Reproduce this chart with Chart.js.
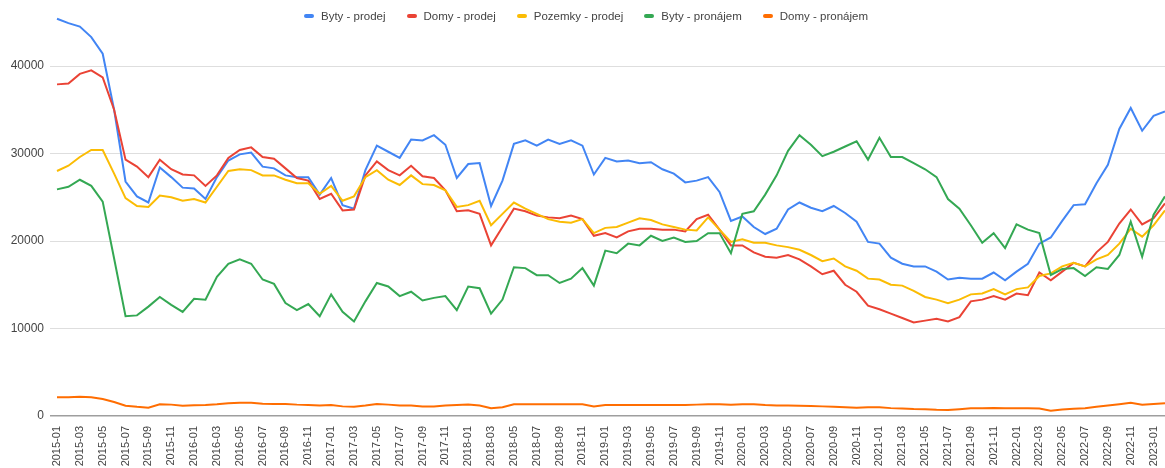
<!DOCTYPE html>
<html>
<head>
<meta charset="utf-8">
<script src="https://cdn.jsdelivr.net/npm/chart.js@4"></script>
<style>
html,body{margin:0;padding:0;background:#fff;overflow:hidden;}
#wrap{position:relative;width:1165px;height:468px;}
#legend{position:absolute;top:10px;left:304px;display:flex;font-family:"Liberation Sans",Arial,sans-serif;font-size:11.5px;color:#444;white-space:nowrap;}
#legend .item{display:flex;align-items:center;margin-right:21px;}
#legend .mk{width:10px;height:4px;border-radius:2px;margin-right:7px;}
</style>
</head>
<body>
<div id="wrap">
<canvas id="c" width="1165" height="468"></canvas>
<div id="legend"></div>
</div>
<script>
const months = ["2015-01","2015-02","2015-03","2015-04","2015-05","2015-06","2015-07","2015-08","2015-09","2015-10","2015-11","2015-12",
"2016-01","2016-02","2016-03","2016-04","2016-05","2016-06","2016-07","2016-08","2016-09","2016-10","2016-11","2016-12",
"2017-01","2017-02","2017-03","2017-04","2017-05","2017-06","2017-07","2017-08","2017-09","2017-10","2017-11","2017-12",
"2018-01","2018-02","2018-03","2018-04","2018-05","2018-06","2018-07","2018-08","2018-09","2018-10","2018-11","2018-12",
"2019-01","2019-02","2019-03","2019-04","2019-05","2019-06","2019-07","2019-08","2019-09","2019-10","2019-11","2019-12",
"2020-01","2020-02","2020-03","2020-04","2020-05","2020-06","2020-07","2020-08","2020-09","2020-10","2020-11","2020-12",
"2021-01","2021-02","2021-03","2021-04","2021-05","2021-06","2021-07","2021-08","2021-09","2021-10","2021-11","2021-12",
"2022-01","2022-02","2022-03","2022-04","2022-05","2022-06","2022-07","2022-08","2022-09","2022-10","2022-11","2022-12",
"2023-01","2023-02"];

const bytyProdej = [45400,44900,44500,43300,41400,35000,26800,25100,24400,28400,27300,26100,
26000,24800,27300,29200,29900,30100,28500,28300,27500,27300,27300,25300,
27200,24100,23700,28100,30900,30200,29500,31600,31500,32100,31000,27200,
28800,28900,24000,26900,31100,31500,30900,31600,31100,31500,30900,27600,
29500,29100,29200,28900,29000,28200,27700,26700,26900,27300,25600,22300,
22800,21600,20800,21400,23600,24400,23800,23400,24000,23200,22200,19900,
19700,18100,17400,17100,17100,16500,15600,15800,15700,15700,16400,15500,
16500,17400,19700,20400,22300,24100,24200,26600,28700,32800,35200,32600,
34300,34800];

const domyProdej = [37900,38000,39100,39500,38700,35000,29300,28500,27300,29300,28200,27600,
27500,26300,27500,29500,30400,30700,29600,29400,28300,27200,26900,24800,
25400,23500,23600,27500,29100,28100,27500,28600,27400,27200,25800,23400,
23500,23100,19500,21600,23700,23400,22900,22700,22600,22900,22500,20600,
20900,20400,21100,21400,21400,21300,21300,21100,22500,23000,21300,19500,
19500,18700,18200,18100,18400,17900,17100,16200,16600,15000,14200,12600,
12200,11700,11200,10700,10900,11100,10800,11300,13100,13300,13700,13300,
14000,13800,16400,15500,16500,17500,17100,18700,19900,22000,23600,21900,
22600,24300];

const pozemkyProdej = [28000,28600,29600,30400,30400,27700,24900,24000,23900,25200,25000,24600,
24800,24400,26200,28000,28200,28100,27500,27500,27000,26600,26600,25400,
26300,24600,25100,27300,28100,27000,26400,27500,26500,26400,25800,23900,
24100,24600,21800,23100,24400,23700,23100,22500,22200,22100,22500,20900,
21500,21600,22100,22600,22400,21900,21600,21300,21200,22700,21300,19900,
20200,19800,19800,19500,19300,19000,18400,17700,18000,17100,16600,15700,
15600,15000,14900,14300,13600,13300,12900,13300,13900,14000,14500,13900,
14500,14700,16000,16300,17100,17500,17100,17900,18400,19700,21400,20500,
21800,23500];

const bytyPronajem = [25900,26200,27000,26300,24500,18000,11400,11500,12500,13600,12700,11900,
13400,13300,15900,17400,17900,17400,15600,15100,12900,12100,12800,11400,
13900,11900,10800,13100,15200,14800,13700,14200,13200,13500,13700,12100,
14800,14600,11700,13300,17000,16900,16100,16100,15200,15700,16900,14900,
18900,18600,19700,19500,20600,20000,20400,19900,20000,20900,20900,18600,
23100,23400,25300,27500,30300,32100,31000,29700,30200,30800,31400,29300,
31800,29600,29600,28900,28200,27300,24800,23700,21800,19800,20900,19200,
21900,21300,20900,16100,16800,16900,16000,17000,16800,18400,22200,18200,
23000,25100];

const domyPronajem = [2130,2150,2200,2150,1950,1600,1180,1050,950,1340,1300,1180,
1220,1260,1330,1450,1520,1520,1400,1370,1370,1300,1260,1200,
1260,1100,1070,1200,1380,1300,1200,1200,1100,1100,1200,1250,
1300,1200,900,1000,1330,1330,1330,1330,1350,1350,1350,1100,
1250,1270,1270,1250,1270,1270,1270,1270,1300,1350,1350,1300,
1350,1330,1250,1200,1200,1180,1150,1100,1070,1000,950,1000,
1000,900,870,800,770,720,700,780,880,880,900,880,
880,880,850,600,750,820,880,1050,1200,1350,1520,1280,
1380,1450];

const seriesNames = ["Byty - prodej","Domy - prodej","Pozemky - prodej","Byty - pronájem","Domy - pronájem"];
const seriesColors = ["#4285F4","#EA4335","#FBBC04","#34A853","#FF6D01"];
const yTicks = [0,10000,20000,30000,40000];

const seriesData = [bytyProdej, domyProdej, pozemkyProdej, bytyPronajem, domyPronajem];

const legend = document.getElementById('legend');
seriesNames.forEach((n,i)=>{
  const it = document.createElement('div'); it.className='item';
  const mk = document.createElement('span'); mk.className='mk'; mk.style.background=seriesColors[i];
  const tx = document.createElement('span'); tx.textContent=n;
  it.appendChild(mk); it.appendChild(tx); legend.appendChild(it);
});

new Chart(document.getElementById('c'), {
  type:'line',
  data:{
    labels: months,
    datasets: seriesData.map((d,i)=>({
      label: seriesNames[i], data: d, borderColor: seriesColors[i], backgroundColor: seriesColors[i],
      borderWidth: 2, pointRadius: 0, tension: 0, fill:false
    })).reverse()
  },
  options:{
    responsive:false, animation:false, devicePixelRatio:1,
    layout:{padding:{top:13.5,right:0,left:0,bottom:0}},
    plugins:{legend:{display:false}, tooltip:{enabled:false}},
    scales:{
      x:{
        offset:false,
        grid:{display:false},
        border:{display:false},
        ticks:{autoSkip:false, minRotation:90, maxRotation:90, padding:2,
          color:'#444', font:{family:'"Liberation Sans", Arial, sans-serif', size:11},
          callback:function(v,i){ return i%2===0 ? months[i] : ''; }},
        afterFit:function(s){ s.height = 52; s.paddingRight = 0; s.paddingLeft = 0; }
      },
      y:{
        min:0, max:46000,
        afterBuildTicks:function(s){ s.ticks = yTicks.map(v=>({value:v})); },
        grid:{color:function(c){ return c.tick && c.tick.value===0 ? '#9e9e9e' : '#dedede'; },
              lineWidth:function(c){ return c.tick && c.tick.value===0 ? 1.5 : 1; },
              tickLength:7},
        border:{display:false},
        ticks:{padding:6, color:'#444', font:{family:'"Liberation Sans", Arial, sans-serif', size:12},
          callback:function(v){ return String(v); }},
        afterFit:function(s){ s.width = 57; s.paddingTop = 0; s.paddingBottom = 0; }
      }
    }
  }
});
</script>
</body>
</html>
